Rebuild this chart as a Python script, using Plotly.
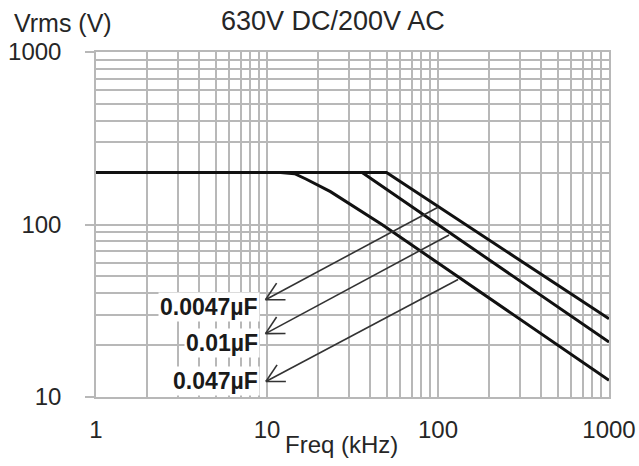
import numpy as np
import plotly.graph_objects as go

# ---------------- data ----------------
title_text = "630V DC/200V AC"
y_title = "Vrms (V)"
x_title = "Freq (kHz)"

x_major = [1, 10, 100, 1000]
x_major_text = ["1", "10", "100", "1000"]
y_major = [10, 100, 1000]
y_major_text = ["10", "100", "1000"]
x_minor = [2, 3, 4, 5, 6, 7, 8, 9, 20, 30, 40, 50, 60, 70, 80, 90, 200, 300, 400, 500, 600, 700, 800, 900]
y_minor = [20, 30, 40, 50, 60, 70, 80, 90, 200, 300, 400, 500, 600, 700, 800, 900]

# curves (kHz, Vrms)
f_047 = [1, 12, 14.5, 17, 23.5, 47, 1000]
v_047 = [200, 200, 197, 183, 155, 100, 12.5]
f_01 = [1, 36, 1000]
v_01 = [200, 200, 20.8]
f_0047 = [1, 50, 1000]
v_0047 = [200, 200, 28.4]

# labels and arrows
cap_labels = ["0.0047µF", "0.01µF", "0.047µF"]
label_f = [9.1, 9.1, 9.1]
label_v = [33.4, 20.6, 12.3]
tip_f = [9.8, 9.8, 9.85]
tip_v = [36.6, 23.3, 12.3]
tail_f = [100, 116, 131]
tail_v = [126, 87, 48]

# ---------------- layout geometry ----------------
W, H = 639, 466
ML, MR, MT, MB = 96, 30, 52, 69
PW, PH = W - ML - MR, H - MT - MB
px_dec_x = PW / 3.0
px_dec_y = PH / 2.0

GRID = "#b8b8b8"
TXT = "#262626"
FONT = "Liberation Sans, Arial, Helvetica, sans-serif"

fig = go.Figure()

for f, v in [(f_047, v_047), (f_01, v_01), (f_0047, v_0047)]:
    fig.add_trace(go.Scatter(x=f, y=v, mode="lines",
                             line=dict(color="#111111", width=3),
                             showlegend=False, hoverinfo="skip"))

# arrows: shaft + two barbs computed in pixel space from the data points
barb_len = 20.0
half_ang = np.deg2rad(28)
for tf, tv, hf, hv in zip(tail_f, tail_v, tip_f, tip_v):
    hx, hy = np.log10(hf) * px_dec_x, np.log10(hv) * px_dec_y
    tx, ty = np.log10(tf) * px_dec_x, np.log10(tv) * px_dec_y
    ang = np.arctan2(ty - hy, tx - hx)
    xs = [tf, hf]
    ys = [tv, hv]
    bx, by = [], []
    for s in (-1, 1):
        a = ang + s * half_ang
        ex = hx + barb_len * np.cos(a)
        ey = hy + barb_len * np.sin(a)
        bx += [10 ** (ex / px_dec_x), hf, None]
        by += [10 ** (ey / px_dec_y), hv, None]
    fig.add_trace(go.Scatter(x=xs + [None] + bx, y=ys + [None] + by, mode="lines",
                             line=dict(color="#333333", width=1.6),
                             showlegend=False, hoverinfo="skip"))

annotations = []
for t, lf, lv in zip(cap_labels, label_f, label_v):
    annotations.append(dict(x=np.log10(lf), y=np.log10(lv), xref="x", yref="y",
                            text="<b>" + t + "</b>", showarrow=False,
                            xanchor="right", yanchor="middle",
                            bgcolor="white", borderpad=1,
                            font=dict(family=FONT, size=23, color="#1a1a1a")))

annotations.append(dict(x=(333 - ML) / PW, y=(H - MB - 21) / PH, xref="paper", yref="paper",
                        text=title_text, showarrow=False, xanchor="center", yanchor="middle",
                        font=dict(family=FONT, size=27, color=TXT)))
annotations.append(dict(x=(12 - ML) / PW, y=(H - MB - 23) / PH, xref="paper", yref="paper",
                        text=y_title, showarrow=False, xanchor="left", yanchor="middle",
                        font=dict(family=FONT, size=25, color=TXT)))
annotations.append(dict(x=(341 - ML) / PW, y=(H - MB - 444) / PH, xref="paper", yref="paper",
                        text=x_title, showarrow=False, xanchor="center", yanchor="middle",
                        font=dict(family=FONT, size=24, color=TXT)))

fig.update_layout(
    width=W, height=H,
    margin=dict(l=ML, r=MR, t=MT, b=MB, pad=0, autoexpand=False),
    paper_bgcolor="white", plot_bgcolor="white",
    annotations=annotations,
    xaxis=dict(type="log", range=[0, 3], tickvals=x_major, ticktext=x_major_text,
               showgrid=True, gridcolor=GRID, gridwidth=1.5,
               minor=dict(tickvals=x_minor, showgrid=True, gridcolor=GRID, gridwidth=1.5),
               showline=True, linecolor=GRID, linewidth=1.5, mirror=True,
               ticks="", ticklabelstandoff=10, zeroline=False, automargin=False,
               tickfont=dict(family=FONT, size=24, color=TXT)),
    yaxis=dict(type="log", range=[1, 3], tickvals=y_major, ticktext=y_major_text,
               showgrid=True, gridcolor=GRID, gridwidth=1.5,
               minor=dict(tickvals=y_minor, showgrid=True, gridcolor=GRID, gridwidth=1.5),
               showline=True, linecolor=GRID, linewidth=1.5, mirror=True,
               ticks="outside", ticklen=9, tickcolor=GRID, tickwidth=1.5,
               ticklabelstandoff=19, zeroline=False, automargin=False,
               tickfont=dict(family=FONT, size=24, color=TXT)),
)

fig.write_html("out.html", config={"displayModeBar": False},
               post_script="document.body.style.margin='0';")
